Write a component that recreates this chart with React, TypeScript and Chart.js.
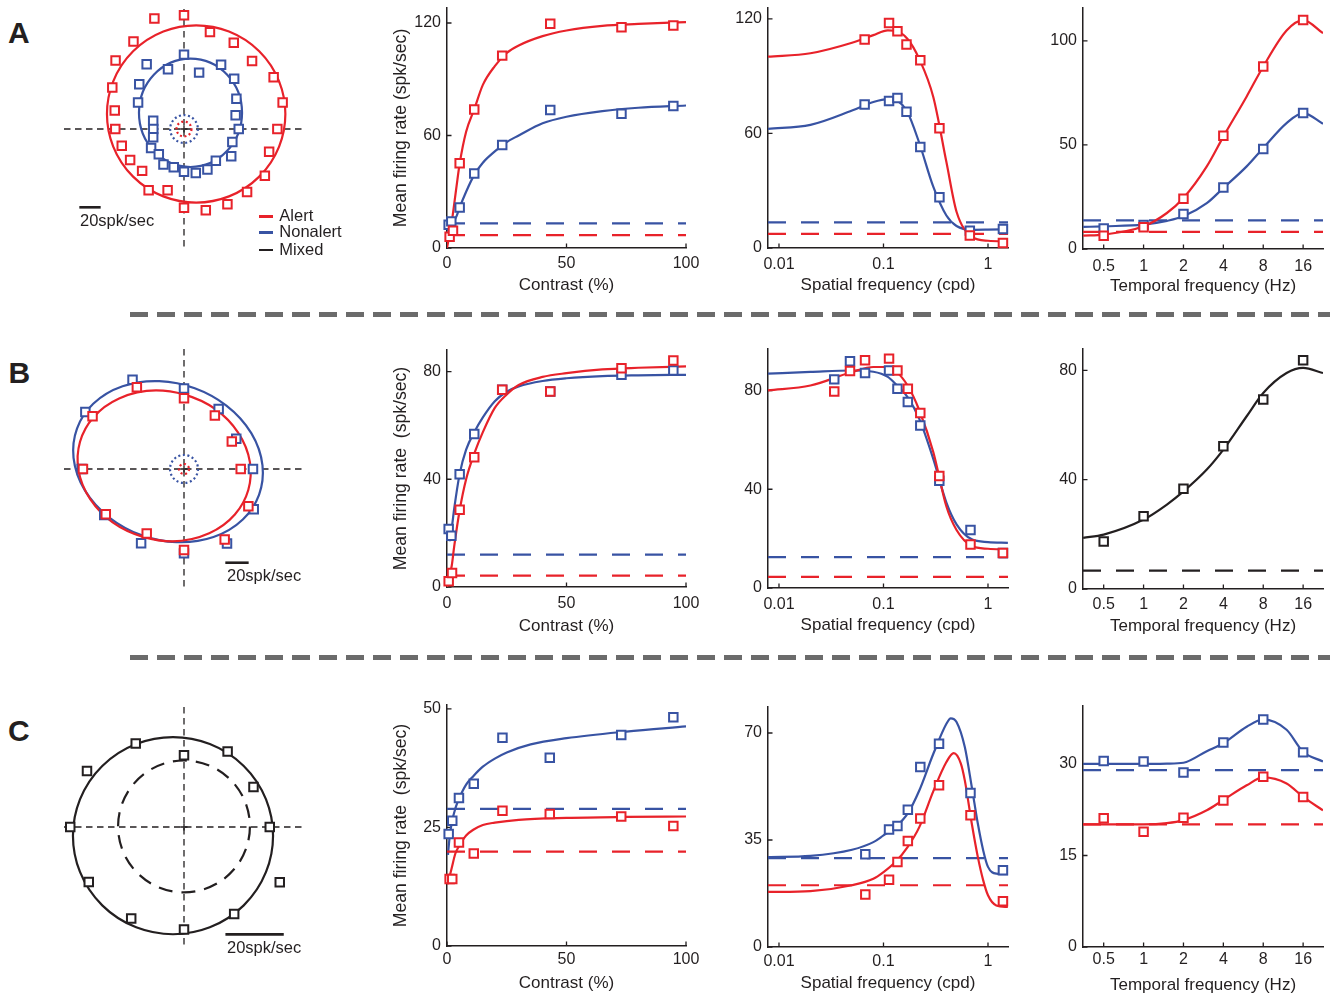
import React, { useEffect, useRef } from 'react';
import { Chart, registerables } from 'chart.js';

Chart.register(...registerables);

const RED = '#e8222a';
const BLUE = '#3853a3';
const INK = '#231f20';
const FONT = "'Liberation Sans', Arial, Helvetica, sans-serif";
const TICK_PX = 16;
const TITLE_PX = 17;
const YTITLE_PX = 17.6;

Chart.defaults.font.family = FONT;

/* ====================== DATA ====================== */
// directions (deg)
const dirs24 = [0, 15, 30, 45, 60, 75, 90, 105, 120, 135, 150, 165, 180, 195, 210, 225, 240, 255, 270, 285, 300, 315, 330, 345];
const dirs12 = [0, 30, 60, 90, 120, 150, 180, 210, 240, 270, 300, 330];

// ---- Row A ----
const aPolarAlert = [87.5, 95.7, 97.0, 90.2, 93.3, 94.0, 106.6, 107.2, 94.7, 90.7, 77.6, 67.2, 64.4, 60.4, 58.3, 55.5, 66.3, 59.4, 73.8, 78.9, 81.4, 83.6, 87.5, 82.6];
const aPolarNonalert = [51.3, 50.1, 56.7, 66.5, 69.5, 54.7, 69.7, 57.9, 70.0, 59.3, 49.7, 29.9, 28.8, 29.9, 35.6, 33.4, 38.5, 37.1, 40, 42.7, 43.9, 42.2, 51.1, 46.9];
// fitted ellipses: [centerX, centerY, radiusX, radiusY, tiltDeg]
const aPolarFitAlert = [11.4, 14.1, 83.6, 83.1, 0];
const aPolarFitNonalert = [6.1, 15.2, 48.3, 50.8, 0];
const aSpontAlert = 7;
const aSpontNonalert = 13;

const aConAlertX = [1.1, 2.5, 5.3, 11.4, 23.1, 43.2, 73, 94.7];
const aConAlertY = [6.0, 9.2, 45.2, 73.9, 102.6, 119.6, 117.7, 118.7];
const aConNonX = [0.7, 1.8, 5.3, 11.4, 23.1, 43.2, 73, 94.7];
const aConNonY = [12.4, 14.2, 21.6, 39.7, 54.9, 73.6, 71.6, 75.7];
const aConFitX = [0, 2, 4, 5.3, 8, 11.4, 15, 20, 25, 30, 40, 50, 65, 80, 100];
const aConFitAlert = [0, 14, 33, 45, 62, 74, 87, 97, 104, 108, 113, 116, 118.5, 119.5, 120.5];
const aConFitNon = [9, 12.5, 17, 21.6, 30, 39, 45.5, 51.5, 56.5, 60, 66.5, 70, 73, 74.8, 76];
const aConBaseAlert = 6.9;
const aConBaseNon = 13.1;

const aSfX = [0.066, 0.113, 0.136, 0.166, 0.225, 0.343, 0.67, 1.39];
const aSfAlert = [109.2, 117.8, 113.5, 106.6, 98.3, 62.7, 6.5, 2.6];
const aSfNon = [75.1, 77.0, 78.6, 71.3, 52.9, 26.6, 9.1, 10.0];
const aSfFitX = [0.00785, 0.02, 0.05, 0.08, 0.11, 0.13, 0.17, 0.22, 0.3, 0.4, 0.5, 0.7, 1, 1.55];
const aSfFitAlert = [100.2, 102, 107.5, 111.5, 114, 113.8, 109.5, 99, 79, 45, 19, 6, 3.8, 3.5];
const aSfFitNon = [62.4, 64.5, 72, 76.5, 78, 77.5, 71, 55, 32, 17, 11.5, 9.5, 9.6, 9.8];
const aSfBaseAlert = 7.4;
const aSfBaseNon = 13.4;

const tfX = [0.5, 1, 2, 4, 8, 16];
const tfFitX = [0.35, 0.5, 1, 1.5, 2, 3, 4, 6, 8, 12, 16, 22.6];
const aTfAlert = [6.4, 10.4, 24.2, 54.4, 87.7, 110];
const aTfNon = [9.9, 11.5, 16.8, 29.6, 48, 65.3];
const aTfFitAlert = [6.4, 6.9, 10.9, 17.3, 24.5, 39.7, 54, 73.3, 87.7, 105, 110, 103.7];
const aTfFitNon = [10.6, 10.9, 11.7, 13.5, 15.7, 22, 29.3, 39.7, 48.5, 60.5, 65.3, 60.2];
const aTfBaseAlert = 8.2;
const aTfBaseNon = 13.8;

// ---- Row B ----
const bPolarAlert = [48.6, 47.3, 52.9, 60.6, 80.8, 90.5, 86.6, 77.4, 63.9, 69.4, 69.7, 63.7];
const bPolarNonalert = [59.1, 51.7, 59.4, 68.9, 88.2, 97.6, 87.7, 78.9, 73.5, 72.3, 73.7, 69.0];
const bPolarFitAlert = [-17, 2.7, 75, 63.5, -16];
const bPolarFitNonalert = [-13.7, 6.3, 83, 67, -20];
const bSpontAlert = 4.3;
const bSpontNonalert = 12;

const bConAlertX = [0.7, 2.1, 5.3, 11.4, 23.1, 43.2, 73, 94.7];
const bConAlertY = [2.1, 5.2, 28.7, 48.2, 73.2, 72.6, 81.2, 84.1];
const bConNonX = [0.7, 1.8, 5.3, 11.4, 23.1, 43.2, 73, 94.7];
const bConNonY = [21.5, 19, 41.9, 56.8, 73.2, 72.6, 78.8, 80.4];
const bConFitAlertX = [0, 2, 3, 5.3, 8, 11.4, 15, 20, 25, 30, 40, 50, 65, 80, 100];
const bConFitAlert = [0, 8, 15, 28.5, 40, 49.5, 57.5, 66.5, 71.5, 75, 78, 79.4, 80.8, 81.4, 81.9];
const bConFitNonX = [1, 2, 3, 5.3, 8, 11.4, 15, 20, 25, 30, 40, 50, 65, 80, 100];
const bConFitNon = [17, 22, 29, 42, 51, 57.5, 63, 69, 72.5, 74.5, 76.5, 77.5, 78.3, 78.6, 78.8];
const bConBaseAlert = 4.2;
const bConBaseNon = 12;

const bSfX = [0.0338, 0.0478, 0.0666, 0.113, 0.136, 0.171, 0.225, 0.342, 0.68, 1.39];
const bSfAlert = [79.6, 87.9, 92.2, 92.9, 88.1, 80.7, 70.9, 45.4, 17.6, 14.2];
const bSfNon = [84.5, 91.8, 87.1, 88.1, 80.7, 75.3, 65.8, 43.4, 23.5, 14.2];
const bSfFitX = [0.00785, 0.02, 0.05, 0.08, 0.11, 0.13, 0.17, 0.22, 0.3, 0.4, 0.5, 0.7, 1, 1.55];
const bSfFitAlert = [80, 82, 87.5, 89.5, 89.5, 88, 82, 72, 55, 33, 23.5, 17, 15.9, 15.6];
const bSfFitNon = [86.8, 87.5, 88.1, 87.6, 85.5, 82.7, 77.3, 68.5, 52.2, 34.6, 25.8, 19.7, 18.6, 18.3];
const bSfBaseAlert = 4.5;
const bSfBaseNon = 12.5;

const bTfMixed = [17.4, 26.6, 36.7, 52.2, 69.3, 83.7];
const bTfFitMixed = [18.7, 19.9, 25.4, 30.9, 35.7, 43.7, 51, 63.2, 71.7, 79, 80.9, 79];
const bTfBaseMixed = 6.7;

// ---- Row C ----
const cPolarMixed = [29.4, 27.5, 29.9, 24.6, 33.1, 38.4, 39, 37.7, 36.2, 35.1, 34.4, 37.9];
const cPolarFitMixed = [-3.77, -2.97, 34.3, 33.8, 0];
const cPolarSpontMixed = [0, 0.2, 22.6, 22.6, 0];

const cConNonX = [0.7, 2.2, 5, 11.2, 23.2, 43, 72.9, 94.7];
const cConNonY = [23.6, 26.4, 31.2, 34.2, 43.9, 39.7, 44.5, 48.2];
const cConAlertX = [1.1, 2.2, 5, 11.2, 23.2, 43, 72.9, 94.7];
const cConAlertY = [14.1, 14.1, 21.8, 19.5, 28.5, 27.8, 27.3, 25.3];
const cConFitNonX = [0.4, 1, 2, 3.5, 5, 8, 11, 15, 20, 25, 35, 50, 75, 100];
const cConFitNon = [19.2, 22.5, 26, 29, 31, 34, 35.8, 37.8, 39.5, 40.8, 42.5, 43.8, 45.2, 46.3];
const cConFitAlertX = [0.2, 1, 2, 3.5, 5, 8, 11, 15, 20, 30, 50, 75, 100];
const cConFitAlert = [13, 14.5, 16.5, 19.5, 21, 23.3, 24.5, 25.5, 26, 26.6, 27, 27.2, 27.3];
const cConBaseAlert = 19.9;
const cConBaseNon = 28.9;

const cSfX = [0.067, 0.113, 0.136, 0.171, 0.225, 0.34, 0.68, 1.39];
const cSfNon = [30.3, 38.4, 39.6, 44.9, 58.9, 66.5, 50.4, 25.1];
const cSfAlert = [17.2, 22, 27.8, 34.7, 42, 52.9, 43.1, 15];
const cSfFitNonX = [0.00785, 0.02, 0.05, 0.08, 0.1, 0.13, 0.17, 0.22, 0.3, 0.4, 0.44, 0.5, 0.6, 0.7, 0.8, 0.9, 1, 1.2, 1.55];
const cSfFitNon = [29.4, 29.8, 31.8, 34.3, 36.5, 39.2, 43.6, 51.2, 63.2, 73, 74.8, 73.6, 65.4, 52.3, 40.3, 31.6, 26.2, 24, 23.8];
const cSfFitAlertX = [0.00785, 0.02, 0.05, 0.08, 0.1, 0.13, 0.17, 0.22, 0.3, 0.4, 0.47, 0.55, 0.6, 0.7, 0.8, 0.9, 1, 1.2, 1.55];
const cSfFitAlert = [18, 18.3, 20.2, 22.3, 24.5, 27.8, 32.7, 39.2, 51, 60.5, 63.4, 60, 54.5, 40.3, 29.4, 21.8, 16.9, 13.6, 13.1];
const cSfBaseAlert = 20.2;
const cSfBaseNon = 29.1;

const cTfNon = [30.5, 30.4, 28.6, 33.5, 37.3, 31.9];
const cTfAlert = [21.1, 18.9, 21.2, 24, 27.9, 24.6];
const cTfFitNon = [30, 30, 30, 30.05, 30.2, 32.1, 33.4, 36.1, 37.3, 35.6, 32, 30.4];
const cTfFitAlert = [20.1, 20.1, 20.1, 20.3, 20.8, 22.4, 24.1, 26.5, 27.8, 26.8, 24.6, 22.4];
const cTfBaseAlert = 20.1;
const cTfBaseNon = 29;

// axis ticks
const conTicks = [0, 50, 100];
const conLabels = ['0', '50', '100'];
const sfTicks = [0.01, 0.1, 1];
const sfLabels = ['0.01', '0.1', '1'];
const tfTicks = [0.5, 1, 2, 4, 8, 16];
const tfLabels = ['0.5', '1', '2', '4', '8', '16'];

/* ====================== HELPERS ====================== */
const zip = (xs: number[], ys: number[]) => xs.map((x, i) => ({ x, y: ys[i] }));

type Series = { color: string; px: number[]; py: number[]; fx: number[]; fy: number[]; base: number };
type AxisPanel = {
  left: number; top: number; width: number; height: number;
  yW: number; xH: number; padT: number; padR: number;
  xLog: boolean; xMin: number; xMax: number; xTicks: number[]; xLabels: string[];
  yMax: number; yTicks: number[]; yTitle?: string; xTitle: string;
  xTickPad: number; xTitlePad: number; series: Series[];
};

const inTicks = {
  id: 'inTicks',
  beforeDatasetsDraw(chart: any) {
    const { ctx, chartArea: a } = chart;
    const sx = chart.scales.x, sy = chart.scales.y;
    ctx.save();
    ctx.strokeStyle = INK; ctx.lineWidth = 1.3; ctx.setLineDash([]);
    ctx.beginPath();
    sx.ticks.forEach((t: any) => { const p = sx.getPixelForValue(t.value); ctx.moveTo(p, a.bottom); ctx.lineTo(p, a.bottom - 4.5); });
    sy.ticks.forEach((t: any) => { const p = sy.getPixelForValue(t.value); ctx.moveTo(a.left, p); ctx.lineTo(a.left + 4.5, p); });
    ctx.stroke();
    ctx.restore();
  },
};

function axisConfig(p: AxisPanel): any {
  const datasets: any[] = [];
  p.series.forEach((s) => {
    datasets.push({
      data: zip(s.px, s.py), showLine: false, pointStyle: 'rect', pointRadius: 6, pointBorderWidth: 2,
      pointBorderColor: s.color, pointBackgroundColor: '#ffffff', clip: false,
    });
  });
  p.series.forEach((s) => {
    datasets.push({
      data: zip(s.fx, s.fy), showLine: true, borderColor: s.color, borderWidth: 2.2, pointRadius: 0,
      cubicInterpolationMode: 'monotone', fill: false,
    });
    datasets.push({
      data: [{ x: p.xMin, y: s.base }, { x: p.xMax, y: s.base }], showLine: true, borderColor: s.color,
      borderWidth: 2.2, borderDash: [18, 15], pointRadius: 0, fill: false,
    });
  });
  const tickFont = { family: FONT, size: TICK_PX };
  const titleFont = { family: FONT, size: TITLE_PX };
  const yTitleFont = { family: FONT, size: YTITLE_PX };
  const zeroPad = (s: any) => { s.paddingLeft = 0; s.paddingRight = 0; s.paddingTop = 0; s.paddingBottom = 0; };
  return {
    type: 'scatter',
    data: { datasets },
    options: {
      animation: false, responsive: false, devicePixelRatio: 1, events: [],
      layout: { padding: { top: p.padT, right: p.padR, left: 0, bottom: 0 } },
      plugins: { legend: { display: false }, tooltip: { enabled: false } },
      scales: {
        x: {
          type: p.xLog ? 'logarithmic' : 'linear', bounds: 'data', min: p.xMin, max: p.xMax,
          grid: { display: false, drawTicks: false },
          border: { display: true, color: INK, width: 1.5 },
          ticks: { autoSkip: false, maxRotation: 0, padding: p.xTickPad, color: INK, font: tickFont,
            callback: (_v: any, i: number) => p.xLabels[i] },
          afterBuildTicks: (s: any) => { s.ticks = p.xTicks.map((v) => ({ value: v })); },
          afterFit: (s: any) => { s.height = p.xH; zeroPad(s); },
          title: { display: true, text: p.xTitle, color: INK, font: titleFont, padding: { top: 0, bottom: p.xTitlePad } },
        },
        y: {
          type: 'linear', bounds: 'data', min: 0, max: p.yMax,
          grid: { display: false, drawTicks: false },
          border: { display: true, color: INK, width: 1.5 },
          ticks: { autoSkip: false, padding: 6, color: INK, font: tickFont, callback: (v: any) => String(v) },
          afterBuildTicks: (s: any) => { s.ticks = p.yTicks.map((v) => ({ value: v })); },
          afterFit: (s: any) => { s.width = p.yW; zeroPad(s); },
          title: { display: !!p.yTitle, text: p.yTitle || '', color: INK, font: yTitleFont, padding: { top: 10.4, bottom: 0 } },
        },
      },
    },
    plugins: [inTicks],
  };
}

type PolarPanel = {
  left: number; top: number; size: number; ppu: number;
  series: { color: string; dirs: number[]; rates: number[] }[];
  fits: { color: string; e: number[]; dash?: number[] }[];
  spont: { color: string; r: number }[];
  bar: number[];
};

function polarConfig(p: PolarPanel): any {
  const half = (p.size - 20) / 2 / p.ppu;
  const datasets = p.series.map((s) => ({
    data: s.dirs.map((d, i) => ({
      x: s.rates[i] * Math.cos((d * Math.PI) / 180),
      y: s.rates[i] * Math.sin((d * Math.PI) / 180),
    })),
    showLine: false, pointStyle: 'rect', pointRadius: 6, pointBorderWidth: 2,
    pointBorderColor: s.color, pointBackgroundColor: '#ffffff', clip: false,
  }));
  const decor = {
    id: 'polarDecor',
    beforeDatasetsDraw(chart: any) {
      const { ctx, chartArea: a } = chart;
      const sx = chart.scales.x, sy = chart.scales.y;
      const X = (v: number) => sx.getPixelForValue(v);
      const Y = (v: number) => sy.getPixelForValue(v);
      const kx = X(1) - X(0), ky = Y(0) - Y(1);
      ctx.save();
      ctx.strokeStyle = INK; ctx.lineWidth = 1.3; ctx.setLineDash([6.5, 4.5]);
      ctx.beginPath();
      ctx.moveTo(a.left, Y(0)); ctx.lineTo(a.right, Y(0));
      ctx.moveTo(X(0), a.top); ctx.lineTo(X(0), a.bottom);
      ctx.stroke();
      p.fits.forEach((f) => {
        const [cx, cy, rx, ry, tilt] = f.e;
        ctx.strokeStyle = f.color; ctx.lineWidth = 2.2; ctx.setLineDash(f.dash || []);
        ctx.beginPath();
        ctx.ellipse(X(cx), Y(cy), rx * kx, ry * ky, (-tilt * Math.PI) / 180, 0, 2 * Math.PI);
        ctx.stroke();
      });
      p.spont.forEach((s) => {
        ctx.strokeStyle = s.color; ctx.lineWidth = 2.2; ctx.setLineDash([2, 2.6]);
        ctx.beginPath();
        ctx.ellipse(X(0), Y(0), s.r * kx, s.r * ky, 0, 0, 2 * Math.PI);
        ctx.stroke();
      });
      ctx.setLineDash([]); ctx.strokeStyle = INK; ctx.lineWidth = 1.3;
      ctx.beginPath();
      ctx.moveTo(X(0) - 3.5, Y(0)); ctx.lineTo(X(0) + 3.5, Y(0));
      ctx.moveTo(X(0), Y(0) - 3.5); ctx.lineTo(X(0), Y(0) + 3.5);
      ctx.stroke();
      ctx.lineWidth = 2.6;
      ctx.beginPath();
      ctx.moveTo(X(p.bar[0]), Y(p.bar[1])); ctx.lineTo(X(p.bar[0] + 20), Y(p.bar[1]));
      ctx.stroke();
      ctx.restore();
    },
  };
  return {
    type: 'scatter',
    data: { datasets },
    options: {
      animation: false, responsive: false, devicePixelRatio: 1, events: [],
      layout: { padding: 10 },
      plugins: { legend: { display: false }, tooltip: { enabled: false } },
      scales: {
        x: { display: false, bounds: 'data', min: -half, max: half },
        y: { display: false, bounds: 'data', min: -half, max: half },
      },
    },
    plugins: [decor],
  };
}

/* ====================== PANELS ====================== */
const polarPanels: PolarPanel[] = [
  {
    left: 54, top: -1, size: 260, ppu: 1.067,
    series: [
      { color: RED, dirs: dirs24, rates: aPolarAlert },
      { color: BLUE, dirs: dirs24, rates: aPolarNonalert },
    ],
    fits: [{ color: RED, e: aPolarFitAlert }, { color: BLUE, e: aPolarFitNonalert }],
    spont: [{ color: BLUE, r: aSpontNonalert }, { color: RED, r: aSpontAlert }],
    bar: [-98.1, -73.4],
  },
  {
    left: 54, top: 339, size: 260, ppu: 1.167,
    series: [
      { color: RED, dirs: dirs12, rates: bPolarAlert },
      { color: BLUE, dirs: dirs12, rates: bPolarNonalert },
    ],
    fits: [{ color: BLUE, e: bPolarFitNonalert }, { color: RED, e: bPolarFitAlert }],
    spont: [{ color: BLUE, r: bSpontNonalert }, { color: RED, r: bSpontAlert }],
    bar: [35.4, -80.3],
  },
  {
    left: 54, top: 697, size: 260, ppu: 2.917,
    series: [{ color: INK, dirs: dirs12, rates: cPolarMixed }],
    fits: [{ color: INK, e: cPolarFitMixed }, { color: INK, e: cPolarSpontMixed, dash: [14, 9] }],
    spont: [],
    bar: [14.2, -36.8],
  },
];

const axisPanels: AxisPanel[] = [
  {
    left: 380, top: 0, width: 320, height: 300, yW: 67, xH: 52, padT: 7, padR: 14,
    xLog: false, xMin: 0, xMax: 100, xTicks: conTicks, xLabels: conLabels,
    yMax: 128, yTicks: [0, 60, 120], yTitle: 'Mean firing rate (spk/sec)', xTitle: 'Contrast (%)',
    xTickPad: 5.7, xTitlePad: 4.1,
    series: [
      { color: RED, px: aConAlertX, py: aConAlertY, fx: aConFitX, fy: aConFitAlert, base: aConBaseAlert },
      { color: BLUE, px: aConNonX, py: aConNonY, fx: aConFitX, fy: aConFitNon, base: aConBaseNon },
    ],
  },
  {
    left: 720, top: 0, width: 300, height: 300, yW: 48, xH: 52, padT: 5, padR: 12,
    xLog: true, xMin: 0.00785, xMax: 1.554, xTicks: sfTicks, xLabels: sfLabels,
    yMax: 125.7, yTicks: [0, 60, 120], xTitle: 'Spatial frequency (cpd)', xTickPad: 7.4, xTitlePad: 4.8,
    series: [
      { color: RED, px: aSfX, py: aSfAlert, fx: aSfFitX, fy: aSfFitAlert, base: aSfBaseAlert },
      { color: BLUE, px: aSfX, py: aSfNon, fx: aSfFitX, fy: aSfFitNon, base: aSfBaseNon },
    ],
  },
  {
    left: 1040, top: 0, width: 298, height: 300, yW: 43, xH: 51, padT: 8, padR: 15,
    xLog: true, xMin: 0.349, xMax: 22.6, xTicks: tfTicks, xLabels: tfLabels,
    yMax: 115.8, yTicks: [0, 50, 100], xTitle: 'Temporal frequency (Hz)', xTickPad: 8.1, xTitlePad: 3.3,
    series: [
      { color: RED, px: tfX, py: aTfAlert, fx: tfFitX, fy: aTfFitAlert, base: aTfBaseAlert },
      { color: BLUE, px: tfX, py: aTfNon, fx: tfFitX, fy: aTfFitNon, base: aTfBaseNon },
    ],
  },
  {
    left: 380, top: 340, width: 320, height: 300, yW: 67, xH: 53, padT: 10, padR: 14,
    xLog: false, xMin: 0, xMax: 100, xTicks: conTicks, xLabels: conLabels,
    yMax: 88, yTicks: [0, 40, 80], yTitle: 'Mean firing rate  (spk/sec)', xTitle: 'Contrast (%)',
    xTickPad: 6.7, xTitlePad: 3.8,
    series: [
      { color: RED, px: bConAlertX, py: bConAlertY, fx: bConFitAlertX, fy: bConFitAlert, base: bConBaseAlert },
      { color: BLUE, px: bConNonX, py: bConNonY, fx: bConFitNonX, fy: bConFitNon, base: bConBaseNon },
    ],
  },
  {
    left: 720, top: 340, width: 300, height: 300, yW: 48, xH: 52, padT: 9, padR: 12,
    xLog: true, xMin: 0.00785, xMax: 1.554, xTicks: sfTicks, xLabels: sfLabels,
    yMax: 96.8, yTicks: [0, 40, 80], xTitle: 'Spatial frequency (cpd)', xTickPad: 7.4, xTitlePad: 4.8,
    series: [
      { color: RED, px: bSfX, py: bSfAlert, fx: bSfFitX, fy: bSfFitAlert, base: bSfBaseAlert },
      { color: BLUE, px: bSfX, py: bSfNon, fx: bSfFitX, fy: bSfFitNon, base: bSfBaseNon },
    ],
  },
  {
    left: 1040, top: 340, width: 298, height: 300, yW: 43, xH: 51, padT: 9, padR: 15,
    xLog: true, xMin: 0.349, xMax: 22.6, xTicks: tfTicks, xLabels: tfLabels,
    yMax: 87.8, yTicks: [0, 40, 80], xTitle: 'Temporal frequency (Hz)', xTickPad: 6.4, xTitlePad: 3.3,
    series: [
      { color: INK, px: tfX, py: bTfMixed, fx: tfFitX, fy: bTfFitMixed, base: bTfBaseMixed },
    ],
  },
  {
    left: 380, top: 690, width: 320, height: 309, yW: 67, xH: 53, padT: 15, padR: 14,
    xLog: false, xMin: 0, xMax: 100, xTicks: conTicks, xLabels: conLabels,
    yMax: 50.8, yTicks: [0, 25, 50], yTitle: 'Mean firing rate  (spk/sec)', xTitle: 'Contrast (%)',
    xTickPad: 4.4, xTitlePad: 5.5,
    series: [
      { color: RED, px: cConAlertX, py: cConAlertY, fx: cConFitAlertX, fy: cConFitAlert, base: cConBaseAlert },
      { color: BLUE, px: cConNonX, py: cConNonY, fx: cConFitNonX, fy: cConFitNon, base: cConBaseNon },
    ],
  },
  {
    left: 720, top: 690, width: 300, height: 309, yW: 48, xH: 52, padT: 17, padR: 12,
    xLog: true, xMin: 0.00785, xMax: 1.554, xTicks: sfTicks, xLabels: sfLabels,
    yMax: 78.5, yTicks: [0, 35, 70], xTitle: 'Spatial frequency (cpd)', xTickPad: 5.1, xTitlePad: 5.5,
    series: [
      { color: RED, px: cSfX, py: cSfAlert, fx: cSfFitAlertX, fy: cSfFitAlert, base: cSfBaseAlert },
      { color: BLUE, px: cSfX, py: cSfNon, fx: cSfFitNonX, fy: cSfFitNon, base: cSfBaseNon },
    ],
  },
  {
    left: 1040, top: 690, width: 298, height: 309, yW: 43, xH: 52, padT: 16, padR: 15,
    xLog: true, xMin: 0.349, xMax: 22.6, xTicks: tfTicks, xLabels: tfLabels,
    yMax: 39.5, yTicks: [0, 15, 30], xTitle: 'Temporal frequency (Hz)', xTickPad: 3.4, xTitlePad: 3.8,
    series: [
      { color: RED, px: tfX, py: cTfAlert, fx: tfFitX, fy: cTfFitAlert, base: cTfBaseAlert },
      { color: BLUE, px: tfX, py: cTfNon, fx: tfFitX, fy: cTfFitNon, base: cTfBaseNon },
    ],
  },
];

/* ====================== COMPONENTS ====================== */
function ChartBox({ cfg, left, top, width, height }: { cfg: any; left: number; top: number; width: number; height: number }) {
  const ref = useRef<HTMLCanvasElement>(null);
  useEffect(() => {
    const chart = new Chart(ref.current as HTMLCanvasElement, cfg);
    return () => chart.destroy();
  }, []);
  return (
    <canvas ref={ref} width={width} height={height}
      style={{ position: 'absolute', left, top, width, height }} />
  );
}

function Txt({ x, baseline, size, bold, children }: { x: number; baseline: number; size: number; bold?: boolean; children: any }) {
  return (
    <div style={{
      position: 'absolute', left: x, top: baseline - 0.8465 * size, fontSize: size, lineHeight: `${size}px`,
      fontWeight: bold ? 700 : 400, whiteSpace: 'nowrap', color: INK, fontFamily: FONT,
    }}>{children}</div>
  );
}

function Hline({ x1, x2, y, color, w }: { x1: number; x2: number; y: number; color: string; w: number }) {
  return <div style={{ position: 'absolute', left: x1, top: y - w / 2, width: x2 - x1, height: w, background: color }} />;
}

function Separator({ y }: { y: number }) {
  return (
    <div style={{
      position: 'absolute', left: 130, top: y - 2.5, width: 1200, height: 5,
      background: 'repeating-linear-gradient(to right, #6b6b6b 0px, #6b6b6b 18px, transparent 18px, transparent 27px)',
    }} />
  );
}

export default function App() {
  return (
    <div style={{ position: 'absolute', left: 0, top: 0, width: 1338, height: 999, background: '#ffffff', overflow: 'hidden', fontFamily: FONT }}>
      {polarPanels.map((p, i) => (
        <ChartBox key={'p' + i} cfg={polarConfig(p)} left={p.left} top={p.top} width={p.size} height={p.size} />
      ))}
      {axisPanels.map((p, i) => (
        <ChartBox key={'a' + i} cfg={axisConfig(p)} left={p.left} top={p.top} width={p.width} height={p.height} />
      ))}

      <Txt x={8} baseline={43.3} size={30} bold>A</Txt>
      <Txt x={8.5} baseline={383.3} size={30} bold>B</Txt>
      <Txt x={8} baseline={741.5} size={30} bold>C</Txt>

      <Txt x={80} baseline={225.7} size={16.5}>20spk/sec</Txt>
      <Txt x={227} baseline={580.7} size={16.5}>20spk/sec</Txt>
      <Txt x={227} baseline={952.7} size={16.5}>20spk/sec</Txt>

      <Hline x1={259.3} x2={273.3} y={216.7} color={RED} w={2.6} />
      <Hline x1={259.3} x2={273.3} y={232.3} color={BLUE} w={2.6} />
      <Hline x1={259.3} x2={273.3} y={250} color={INK} w={2.6} />
      <Txt x={279.3} baseline={220.7} size={16.5}>Alert</Txt>
      <Txt x={279.3} baseline={237.3} size={16.5}>Nonalert</Txt>
      <Txt x={279.3} baseline={255} size={16.5}>Mixed</Txt>

      <Separator y={314} />
      <Separator y={657} />
    </div>
  );
}
